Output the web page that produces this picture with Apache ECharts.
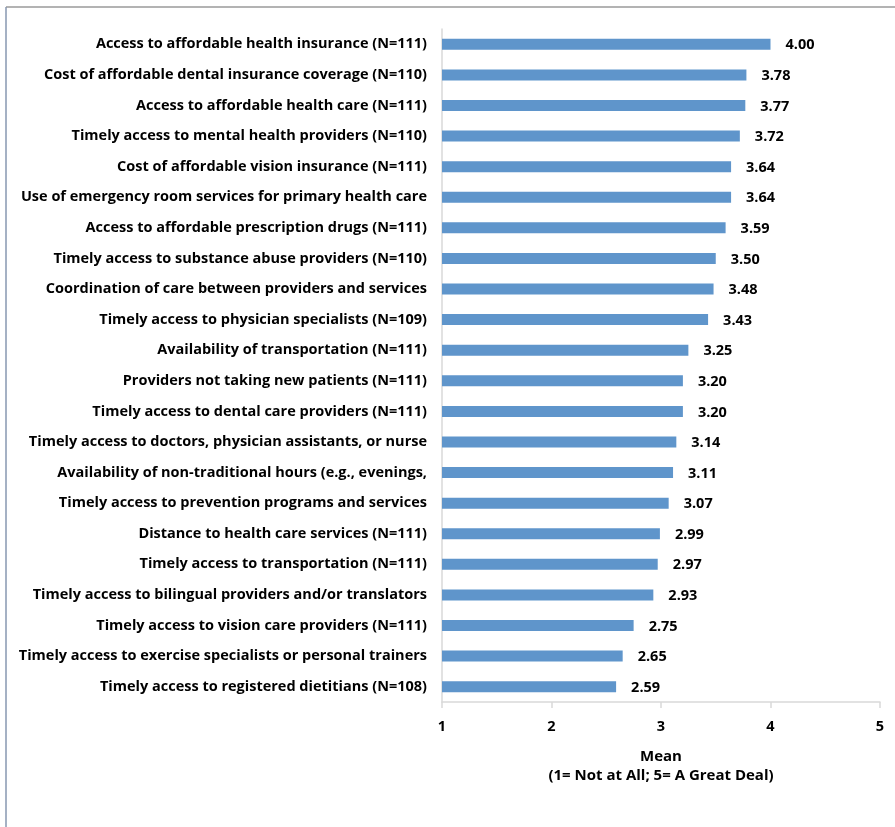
<!DOCTYPE html>
<html>
<head>
<meta charset="utf-8">
<script src="https://cdn.jsdelivr.net/npm/echarts@6/dist/echarts.min.js"></script>
<style>
html,body{margin:0;padding:0;background:#fff;}
#chart{width:895px;height:827px;}
</style>
</head>
<body>
<div id="chart"></div>
<script>
var categories = [
  "Access to affordable health insurance (N=111)",
  "Cost of affordable dental insurance coverage (N=110)",
  "Access to affordable health care (N=111)",
  "Timely access to mental health providers (N=110)",
  "Cost of affordable vision insurance (N=111)",
  "Use of emergency room services for primary health care",
  "Access to affordable prescription drugs (N=111)",
  "Timely access to substance abuse providers (N=110)",
  "Coordination of care between providers and services",
  "Timely access to physician specialists (N=109)",
  "Availability of transportation (N=111)",
  "Providers not taking new patients (N=111)",
  "Timely access to dental care providers (N=111)",
  "Timely access to doctors, physician assistants, or nurse",
  "Availability of non-traditional hours (e.g., evenings,",
  "Timely access to prevention programs and services",
  "Distance to health care services (N=111)",
  "Timely access to transportation (N=111)",
  "Timely access to bilingual providers and/or translators",
  "Timely access to vision care providers (N=111)",
  "Timely access to exercise specialists or personal trainers",
  "Timely access to registered dietitians (N=108)"
];
var meanValues = [4.00, 3.78, 3.77, 3.72, 3.64, 3.64, 3.59, 3.50, 3.48, 3.43, 3.25, 3.20, 3.20, 3.14, 3.11, 3.07, 2.99, 2.97, 2.93, 2.75, 2.65, 2.59];
var xTicks = [1, 2, 3, 4, 5];
var axisTitle = "Mean\n(1= Not at All; 5= A Great Deal)";

var FONT = "Open Sans";
var chart = echarts.init(document.getElementById('chart'), null, {renderer: 'canvas'});
chart.setOption({
  animation: false,
  backgroundColor: '#ffffff',
  textStyle: {fontFamily: FONT},
  graphic: [
    {type: 'line', shape: {x1: 6, y1: 7, x2: 895, y2: 7}, style: {stroke: '#9a9a9a', lineWidth: 1.5}},
    {type: 'line', shape: {x1: 6, y1: 7, x2: 6, y2: 827}, style: {stroke: '#8797b0', lineWidth: 1.5}}
  ],
  grid: {left: 442, right: 15, top: 29, bottom: 125, containLabel: false},
  xAxis: {
    type: 'value',
    min: xTicks[0],
    max: xTicks[xTicks.length - 1],
    interval: 1,
    axisLine: {show: true, lineStyle: {color: '#d9d9d9', width: 1.5}},
    axisTick: {show: true, length: 6, lineStyle: {color: '#d9d9d9', width: 1.5}},
    splitLine: {show: false},
    axisLabel: {color: '#000', fontWeight: 'bold', fontSize: 14.5, fontFamily: FONT, margin: 17},
    name: axisTitle,
    nameLocation: 'middle',
    nameGap: 45,
    nameTextStyle: {color: '#000', fontWeight: 'bold', fontSize: 15, fontFamily: FONT, lineHeight: 19}
  },
  yAxis: {
    type: 'category',
    data: categories,
    inverse: true,
    axisLine: {show: true, lineStyle: {color: '#d9d9d9', width: 1.5}},
    axisTick: {show: false},
    axisLabel: {color: '#000', fontWeight: 'bold', fontSize: 14.5, fontFamily: FONT, margin: 15, padding: [3, 0, 0, 0]}
  },
  series: [{
    type: 'bar',
    data: meanValues,
    barWidth: 11,
    itemStyle: {color: '#5f95cb'},
    label: {
      show: true,
      position: 'right',
      distance: 15,
      offset: [0, 1],
      color: '#000',
      fontWeight: 'bold',
      fontSize: 14.5,
      fontFamily: FONT,
      formatter: function (p) { return p.value.toFixed(2); }
    }
  }]
});
</script>
</body>
</html>
